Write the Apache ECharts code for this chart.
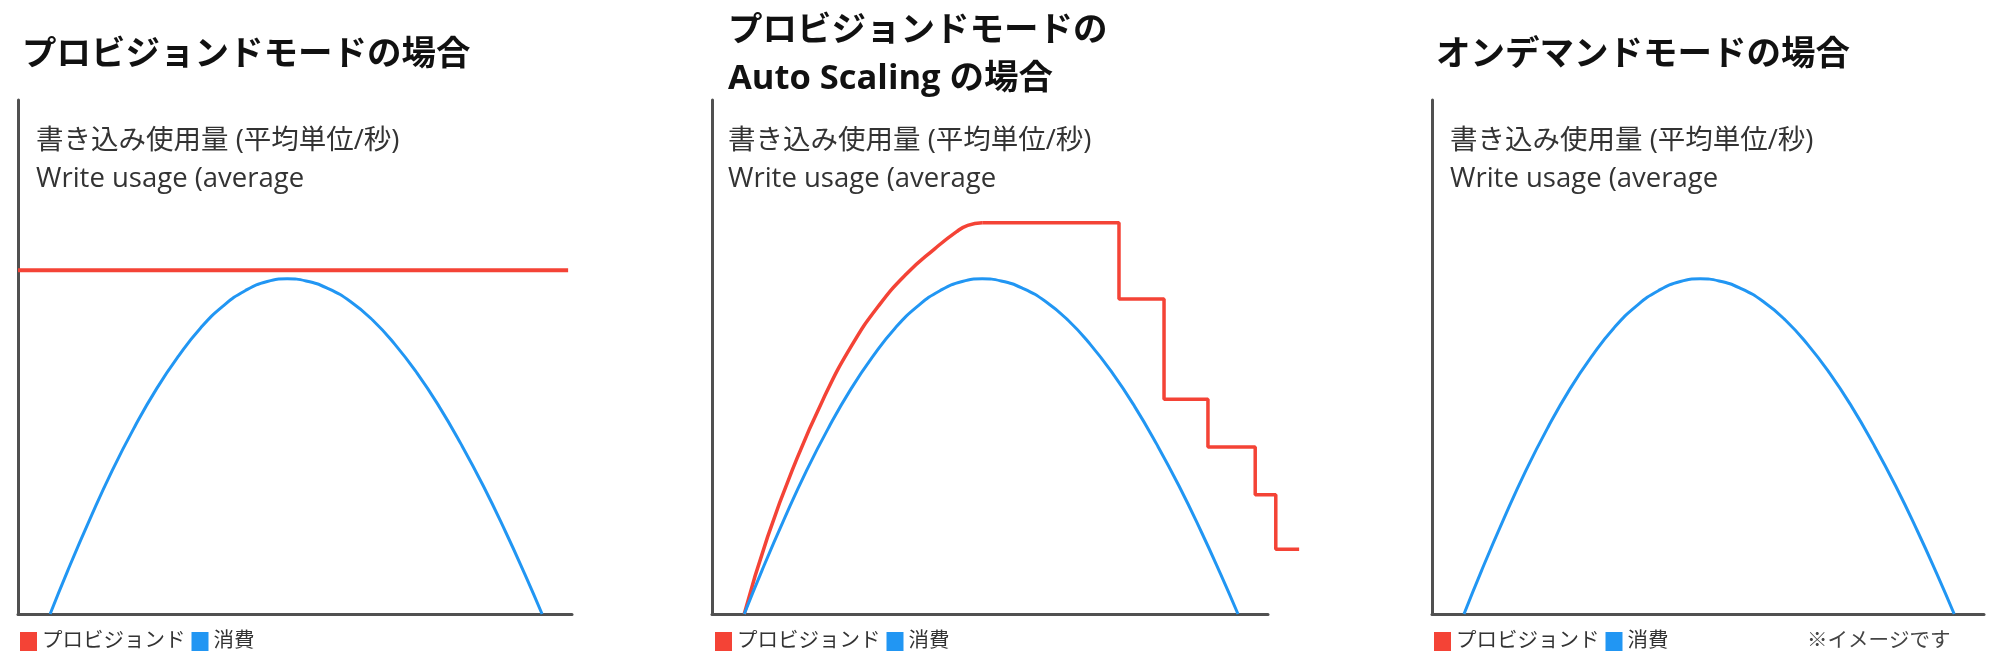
<!DOCTYPE html>
<html>
<head>
<meta charset="utf-8">
<script src="https://cdn.jsdelivr.net/npm/echarts@6/dist/echarts.min.js"></script>
<style>
html,body{margin:0;padding:0;background:#fff;}
#chart{width:2000px;height:663px;}
</style>
</head>
<body>
<div id="chart"></div>
<script>
// ---- data ----
const panelTitles = ['プロビジョンドモードの場合', 'プロビジョンドモードの\nAuto Scaling の場合', 'オンデマンドモードの場合'];
const axisLabelText = '書き込み使用量 (平均単位/秒)\nWrite usage (average';
const legendNames = ['プロビジョンド', '消費'];
const noteText = '※イメージです';

// consumption (消費) curve, [x % of axis width, y % of axis height]
const consumption = [[5.8,0],[9,8.5],[13,18.5],[17,27.9],[21,36.3],[25,43.8],[29,50.2],[33,55.7],[37,59.9],[41,62.9],[45,64.7],[48.6,65.2],[52,64.8],[56,63.3],[60,60.8],[64,57.2],[68,52.5],[72,46.9],[76,40.4],[80,33.0],[84,24.9],[88,16.0],[91.5,7.7],[94.6,0]];
// provisioned (fixed capacity)
const provisionedFixed = [[0,66.9],[99.3,66.9]];
// provisioned with auto scaling: rising curve, then step-downs
const autoScaleRise = [[5.8,0],[10,15.0],[15,29.5],[20,41.8],[25,52.0],[30,60.0],[35,66.2],[40,71.0],[44,74.4],[46,75.6],[48.6,76.1]];
const autoScaleSteps = [[48.6,76.1],[73.2,61.3],[81.3,41.8],[89.2,32.5],[97.7,23.2],[101.4,12.6],[105.6,12.6]];

const RED = '#F44336', BLUE = '#2196F3';
const FONT = "'Open Sans', 'Noto Sans CJK JP', sans-serif";
const AXIS_COLOR = '#505050';

const grids = [
  {left: 18, width: 554, top: 100, bottom: 49},
  {left: 712, width: 611.6, top: 100, bottom: 49},   // panel 2 data area (extends past axis end)
  {left: 1432, width: 552, top: 100, bottom: 49},
  {left: 712, width: 556, top: 100, bottom: 49}      // panel 2 visible x-axis
];
const titleLeft = [22, 728, 1436];
const labelLeft = [36, 728, 1450];
const legendLeft = [20, 715, 1434];

const lineOn = {show: true, lineStyle: {color: AXIS_COLOR, width: 3}};
const mkAxis = (i, max, showLine) => ({
  type: 'value', gridIndex: i, min: 0, max: max, show: true,
  axisLine: showLine ? lineOn : {show: false},
  axisTick: {show: false}, axisLabel: {show: false}, splitLine: {show: false}
});

const titles = [];
for (let i = 0; i < 3; i++) {
  titles.push({
    text: panelTitles[i], left: titleLeft[i], top: i === 1 ? 7 : 33, padding: 0,
    textStyle: {fontFamily: FONT, fontSize: 34.5, fontWeight: 'bold', color: '#111', lineHeight: i === 1 ? 48 : 44}
  });
  titles.push({
    text: axisLabelText, left: labelLeft[i], top: 122, padding: 0,
    textStyle: {fontFamily: FONT, fontSize: 27.5, fontWeight: 'normal', color: '#333', lineHeight: 38}
  });
}
titles.push({
  text: noteText, left: 1807, top: 629, padding: 0,
  textStyle: {fontFamily: FONT, fontSize: 20.5, fontWeight: 'normal', color: '#444', lineHeight: 24}
});

const legends = legendLeft.map(l => ({
  data: legendNames, left: l, top: 629.5, padding: 0, icon: 'rect',
  itemWidth: 17, itemHeight: 19, itemGap: 6, selectedMode: false,
  textStyle: {fontFamily: FONT, fontSize: 20.5, color: '#333', lineHeight: 24}
}));

const lineSeries = (name, data, xi, color, width, extra) => Object.assign({
  type: 'line', name: name, data: data, xAxisIndex: xi, yAxisIndex: xi,
  showSymbol: false, symbol: 'none', clip: false, color: color,
  lineStyle: {color: color, width: width}
}, extra || {});

const smoothOpts = {smooth: 0.5};
const series = [
  lineSeries(legendNames[0], provisionedFixed, 0, RED, 4),
  lineSeries(legendNames[1], consumption, 0, BLUE, 3, smoothOpts),
  lineSeries(legendNames[0], autoScaleRise, 1, RED, 3.5, smoothOpts),
  lineSeries(legendNames[0], autoScaleSteps, 1, RED, 3.5, {step: 'end'}),
  lineSeries(legendNames[1], consumption, 1, BLUE, 3, smoothOpts),
  lineSeries(legendNames[1], consumption, 2, BLUE, 3, smoothOpts)
];

const chart = echarts.init(document.getElementById('chart'), null, {renderer: 'canvas'});
chart.setOption({
  animation: false,
  backgroundColor: '#fff',
  title: titles,
  legend: legends,
  grid: grids,
  xAxis: [mkAxis(0, 100, true), mkAxis(1, 110, false), mkAxis(2, 100, true), mkAxis(3, 100, true)],
  yAxis: [mkAxis(0, 100, true), mkAxis(1, 100, true), mkAxis(2, 100, true), mkAxis(3, 100, false)],
  series: series
});
</script>
</body>
</html>
